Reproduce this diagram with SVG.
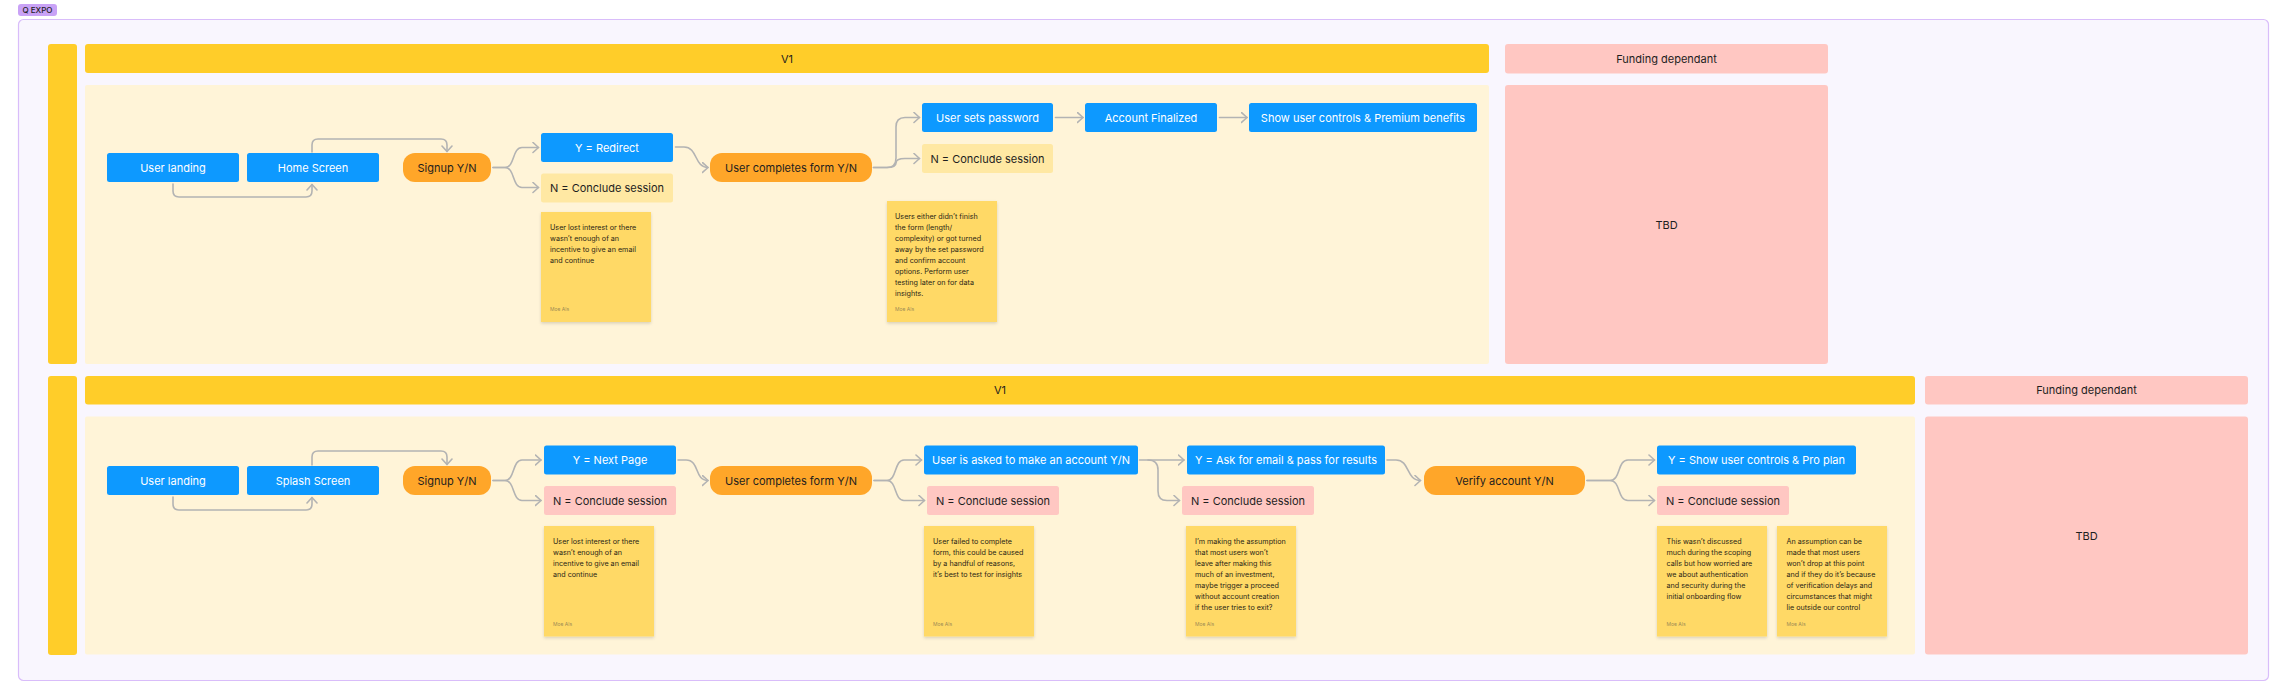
<svg xmlns="http://www.w3.org/2000/svg" width="2288" height="699" viewBox="0 0 2288 699">
<style>
text{font-family:Inter,"Liberation Sans",sans-serif;}
.blue{fill:#0d99ff;}
.orange{fill:#ffa629;}
.ly{fill:#ffe8a3;}
.pink{fill:#ffc7c2;}
.bar{fill:#ffcd29;}
.content{fill:#fff4d8;}
.sticky{fill:#ffd966;filter:url(#sh);}
.tw{fill:#ffffff;font-size:11px;text-anchor:middle;dominant-baseline:central;}
.td{fill:#1e1e1e;font-size:11px;text-anchor:middle;dominant-baseline:central;}
.st{fill:#2b2616;font-size:7.2px;}
.au{fill:#a08c55;font-size:5px;}
.c{fill:none;stroke:#b3b3b3;stroke-width:1.6;stroke-linecap:round;stroke-linejoin:round;}
</style>
<defs>
<filter id="sh" x="-10%" y="-10%" width="120%" height="125%">
<feDropShadow dx="0" dy="1.5" stdDeviation="1.5" flood-color="#000" flood-opacity="0.15"/>
</filter>
<marker id="ar" markerUnits="userSpaceOnUse" viewBox="0 0 8 12" markerWidth="8" markerHeight="12" refX="6.5" refY="6" orient="auto">
<path d="M1,1 L6.5,6 L1,11" fill="none" stroke="#b3b3b3" stroke-width="1.6" stroke-linecap="round" stroke-linejoin="round"/>
</marker>
</defs>
<rect width="2288" height="699" fill="#ffffff"/>

<g id="frame">
<rect x="18.5" y="19.5" width="2250" height="661" rx="5" fill="#f9f6fe" stroke="#d9bdfa" stroke-width="1.2"/>
<rect x="18" y="4" width="39" height="12" rx="3" fill="#c9a2f6"/>
<text x="37.5" y="10.3" style="font-size:8px;font-weight:500;fill:#1e1e1e;text-anchor:middle;dominant-baseline:central;">Q EXPO</text>
</g>

<g id="section1">
<rect class="bar" x="48" y="44" width="29" height="320" rx="3"/>
<rect class="bar" x="85" y="44" width="1404" height="29" rx="3"/>
<text class="td" x="787" y="58.5">V1</text>
<rect class="content" x="85" y="85" width="1404" height="279" rx="2"/>
</g>
<g id="funding1">
<rect class="pink" x="1505" y="44" width="323" height="29.5" rx="3"/>
<text class="td" x="1666.5" y="58.8">Funding dependant</text>
</g>
<g id="tbd1">
<rect class="pink" x="1505" y="85" width="323" height="279" rx="3"/>
<text class="td" x="1666.5" y="224.5">TBD</text>
</g>

<g id="section2">
<rect class="bar" x="48" y="376" width="29" height="279" rx="3"/>
<rect class="bar" x="85" y="376" width="1830" height="28.5" rx="3"/>
<text class="td" x="1000" y="390.3">V1</text>
<rect class="content" x="85" y="416.5" width="1830" height="238" rx="2"/>
</g>
<g id="funding2">
<rect class="pink" x="1925" y="376" width="323" height="28.5" rx="3"/>
<text class="td" x="2086.5" y="390.3">Funding dependant</text>
</g>
<g id="tbd2">
<rect class="pink" x="1925" y="416.5" width="323" height="238" rx="3"/>
<text class="td" x="2086.5" y="535.5">TBD</text>
</g>

<g id="connectors">
<path class="c" d="M173,184 V191 Q173,197 179,197 H306 Q312,197 312,191 V184.5" marker-end="url(#ar)"/>
<path class="c" d="M312,152 V145 Q312,139 318,139 H441 Q447,139 447,145 V151.5" marker-end="url(#ar)"/>
<path class="c" d="M493,167.5 H505 C515,167.5 512,147.5 522,147.5 H538.5" marker-end="url(#ar)"/>
<path class="c" d="M493,167.5 H505 C515,167.5 512,187.5 522,187.5 H538.5" marker-end="url(#ar)"/>
<path class="c" d="M675.5,147 H684 C698,147 694,167.5 708,167.5" marker-end="url(#ar)"/>
<path class="c" d="M873.5,167.5 H887 Q896,167.5 896,158 V127 Q896,117.5 905,117.5 H919.5" marker-end="url(#ar)"/>
<path class="c" d="M873.5,167.5 H887 Q896,167.5 896,163 Q896,158.5 905,158.5 H919.5" marker-end="url(#ar)"/>
<path class="c" d="M1055.5,117.5 H1083" marker-end="url(#ar)"/>
<path class="c" d="M1219.5,117.5 H1247" marker-end="url(#ar)"/>

<path class="c" d="M173,497 V504 Q173,510 179,510 H306 Q312,510 312,504 V497.5" marker-end="url(#ar)"/>
<path class="c" d="M312,465 V457 Q312,451 318,451 H441 Q447,451 447,457 V464.5" marker-end="url(#ar)"/>
<path class="c" d="M493,480.5 H505 C515,480.5 512,460 522,460 H541" marker-end="url(#ar)"/>
<path class="c" d="M493,480.5 H505 C515,480.5 512,500.5 522,500.5 H541" marker-end="url(#ar)"/>
<path class="c" d="M678,460 H686 C700,460 694,480.5 708,480.5" marker-end="url(#ar)"/>
<path class="c" d="M874,480.5 H887 C897,480.5 894,460 904,460 H921.5" marker-end="url(#ar)"/>
<path class="c" d="M874,480.5 H887 C897,480.5 894,500.5 904,500.5 H924.5" marker-end="url(#ar)"/>
<path class="c" d="M1139.5,460 H1184" marker-end="url(#ar)"/>
<path class="c" d="M1148,460 Q1158,460 1158,470 V491 Q1158,500.5 1167,500.5 H1179.5" marker-end="url(#ar)"/>
<path class="c" d="M1387,460 H1396 C1410,460 1406,480.5 1420.5,480.5" marker-end="url(#ar)"/>
<path class="c" d="M1587,480.5 H1610 C1621,480.5 1617,460 1628,460 H1654.5" marker-end="url(#ar)"/>
<path class="c" d="M1587,480.5 H1610 C1621,480.5 1617,500.5 1628,500.5 H1654.5" marker-end="url(#ar)"/>
</g>

<g id="user-landing-1"><rect class="blue" x="107" y="153" width="132" height="29" rx="2.5"/><text class="tw" x="173" y="167.5">User landing</text></g>
<g id="home-screen"><rect class="blue" x="247" y="153" width="132" height="29" rx="2.5"/><text class="tw" x="313" y="167.5">Home Screen</text></g>
<g id="signup-1"><rect class="orange" x="403" y="153" width="88" height="29" rx="12"/><text class="td" x="447" y="167.5">Signup Y/N</text></g>
<g id="y-redirect"><rect class="blue" x="541" y="133" width="132" height="29" rx="2.5"/><text class="tw" x="607" y="147.5">Y = Redirect</text></g>
<g id="n-conclude-1a"><rect class="ly" x="541" y="173.5" width="132" height="29" rx="2.5"/><text class="td" x="607" y="188">N = Conclude session</text></g>
<g id="user-completes-1"><rect class="orange" x="710" y="153" width="162" height="29" rx="12"/><text class="td" x="791" y="167.5">User completes form Y/N</text></g>
<g id="user-sets-password"><rect class="blue" x="922" y="103" width="131" height="29" rx="2.5"/><text class="tw" x="987.5" y="117.5">User sets password</text></g>
<g id="n-conclude-1b"><rect class="ly" x="922" y="144" width="131" height="29" rx="2.5"/><text class="td" x="987.5" y="158.5">N = Conclude session</text></g>
<g id="account-finalized"><rect class="blue" x="1085" y="103" width="132" height="29" rx="2.5"/><text class="tw" x="1151" y="117.5">Account Finalized</text></g>
<g id="show-premium"><rect class="blue" x="1249" y="103" width="228" height="29" rx="2.5"/><text class="tw" x="1363" y="117.5">Show user controls &amp; Premium benefits</text></g>

<g id="sticky-1" transform="translate(541,212)"><rect class="sticky" width="110" height="110"/>
<text class="st" x="9" y="18"><tspan x="9">User lost interest or there</tspan><tspan x="9" dy="11">wasn’t enough of an</tspan><tspan x="9" dy="11">incentive to give an email</tspan><tspan x="9" dy="11">and continue</tspan></text>
<text class="au" x="9" y="99">Moe Als</text></g>
<g id="sticky-2" transform="translate(887,201)"><rect class="sticky" width="110" height="121"/>
<text class="st" x="8" y="17.5"><tspan x="8">Users either didn’t finish</tspan><tspan x="8" dy="11">the form (length/</tspan><tspan x="8" dy="11">complexity) or got turned</tspan><tspan x="8" dy="11">away by the set password</tspan><tspan x="8" dy="11">and confirm account</tspan><tspan x="8" dy="11">options. Perform user</tspan><tspan x="8" dy="11">testing later on for data</tspan><tspan x="8" dy="11">insights.</tspan></text>
<text class="au" x="8" y="110">Moe Als</text></g>

<g id="user-landing-2"><rect class="blue" x="107" y="466" width="132" height="29" rx="2.5"/><text class="tw" x="173" y="480.5">User landing</text></g>
<g id="splash-screen"><rect class="blue" x="247" y="466" width="132" height="29" rx="2.5"/><text class="tw" x="313" y="480.5">Splash Screen</text></g>
<g id="signup-2"><rect class="orange" x="403" y="466" width="88" height="29" rx="12"/><text class="td" x="447" y="480.5">Signup Y/N</text></g>
<g id="y-next-page"><rect class="blue" x="544" y="445.5" width="132" height="29" rx="2.5"/><text class="tw" x="610" y="460">Y = Next Page</text></g>
<g id="n-conclude-2a"><rect class="pink" x="544" y="486" width="132" height="29" rx="2.5"/><text class="td" x="610" y="500.5">N = Conclude session</text></g>
<g id="user-completes-2"><rect class="orange" x="710" y="466" width="162" height="29" rx="12"/><text class="td" x="791" y="480.5">User completes form Y/N</text></g>
<g id="asked-account"><rect class="blue" x="924" y="445.5" width="214" height="29" rx="2.5"/><text class="tw" x="1031" y="460">User is asked to make an account Y/N</text></g>
<g id="n-conclude-2b"><rect class="pink" x="927" y="486" width="132" height="29" rx="2.5"/><text class="td" x="993" y="500.5">N = Conclude session</text></g>
<g id="y-ask-email"><rect class="blue" x="1187" y="445.5" width="198" height="29" rx="2.5"/><text class="tw" x="1286" y="460">Y = Ask for email &amp; pass for results</text></g>
<g id="n-conclude-2c"><rect class="pink" x="1182" y="486" width="132" height="29" rx="2.5"/><text class="td" x="1248" y="500.5">N = Conclude session</text></g>
<g id="verify-account"><rect class="orange" x="1424" y="466" width="161" height="29" rx="12"/><text class="td" x="1504.5" y="480.5">Verify account Y/N</text></g>
<g id="y-show-pro"><rect class="blue" x="1657" y="445.5" width="199" height="29" rx="2.5"/><text class="tw" x="1756.5" y="460">Y = Show user controls &amp; Pro plan</text></g>
<g id="n-conclude-2d"><rect class="pink" x="1657" y="486" width="132" height="29" rx="2.5"/><text class="td" x="1723" y="500.5">N = Conclude session</text></g>

<g id="sticky-3" transform="translate(544,526)"><rect class="sticky" width="110" height="110.5"/>
<text class="st" x="9" y="18"><tspan x="9">User lost interest or there</tspan><tspan x="9" dy="11">wasn’t enough of an</tspan><tspan x="9" dy="11">incentive to give an email</tspan><tspan x="9" dy="11">and continue</tspan></text>
<text class="au" x="9" y="99.5">Moe Als</text></g>
<g id="sticky-4" transform="translate(924,526)"><rect class="sticky" width="110" height="110.5"/>
<text class="st" x="9" y="18"><tspan x="9">User failed to complete</tspan><tspan x="9" dy="11">form, this could be caused</tspan><tspan x="9" dy="11">by a handful of reasons,</tspan><tspan x="9" dy="11">it’s best to test for insights</tspan></text>
<text class="au" x="9" y="99.5">Moe Als</text></g>
<g id="sticky-5" transform="translate(1186,526)"><rect class="sticky" width="110" height="110.5"/>
<text class="st" x="9" y="18"><tspan x="9">I’m making the assumption</tspan><tspan x="9" dy="11">that most users won’t</tspan><tspan x="9" dy="11">leave after making this</tspan><tspan x="9" dy="11">much of an investment,</tspan><tspan x="9" dy="11">maybe trigger a proceed</tspan><tspan x="9" dy="11">without account creation</tspan><tspan x="9" dy="11">if the user tries to exit?</tspan></text>
<text class="au" x="9" y="99.5">Moe Als</text></g>
<g id="sticky-6" transform="translate(1657,526)"><rect class="sticky" width="110" height="110.5"/>
<text class="st" x="9.5" y="18"><tspan x="9.5">This wasn’t discussed</tspan><tspan x="9.5" dy="11">much during the scoping</tspan><tspan x="9.5" dy="11">calls but how worried are</tspan><tspan x="9.5" dy="11">we about authentication</tspan><tspan x="9.5" dy="11">and security during the</tspan><tspan x="9.5" dy="11">initial onboarding flow</tspan></text>
<text class="au" x="9.5" y="99.5">Moe Als</text></g>
<g id="sticky-7" transform="translate(1777,526)"><rect class="sticky" width="110" height="110.5"/>
<text class="st" x="9.5" y="18"><tspan x="9.5">An assumption can be</tspan><tspan x="9.5" dy="11">made that most users</tspan><tspan x="9.5" dy="11">won’t drop at this point</tspan><tspan x="9.5" dy="11">and if they do it’s because</tspan><tspan x="9.5" dy="11">of verification delays and</tspan><tspan x="9.5" dy="11">circumstances that might</tspan><tspan x="9.5" dy="11">lie outside our control</tspan></text>
<text class="au" x="9.5" y="99.5">Moe Als</text></g>
</svg>
